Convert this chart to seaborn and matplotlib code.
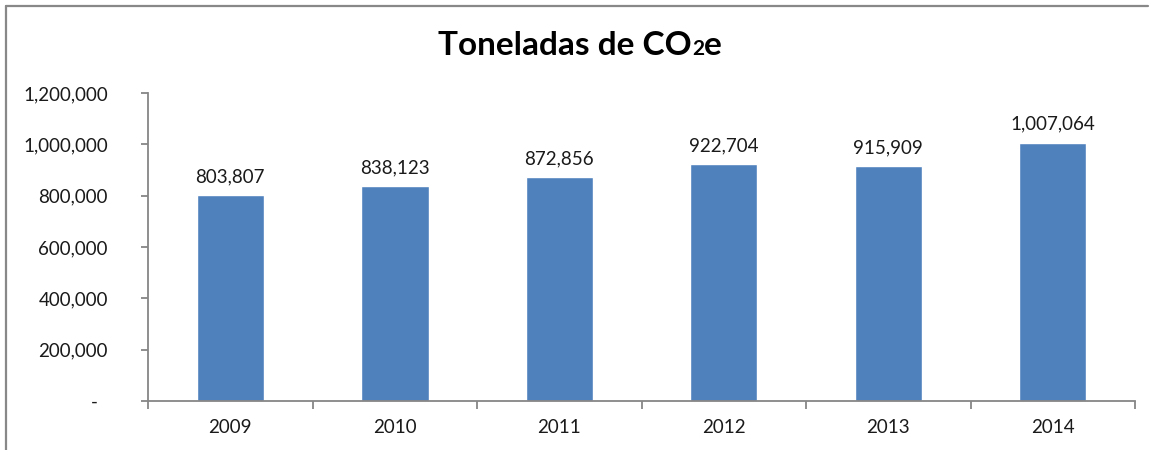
import matplotlib
matplotlib.use("Agg")
import matplotlib.pyplot as plt
import matplotlib.ticker as mticker
from matplotlib.lines import Line2D
import seaborn as sns
import pandas as pd

# Chart data
years = ["2009", "2010", "2011", "2012", "2013", "2014"]
tonnes = [803807, 838123, 872856, 922704, 915909, 1007064]
y_ticks = [0, 200000, 400000, 600000, 800000, 1000000, 1200000]

df = pd.DataFrame({"year": years, "tonnes": tonnes})

sns.set_theme(style="white")
plt.rcParams["font.family"] = ["Lato", "DejaVu Sans"]

fig = plt.figure(figsize=(11.53, 4.5), dpi=100)
ax = fig.add_axes([0.1284, 0.1089, 0.8560, 0.6844])

sns.barplot(data=df, x="year", y="tonnes", color="#4F81BD", width=0.41,
            saturation=1, ax=ax)

# value labels on top of bars
ax.bar_label(ax.containers[0], labels=[f"{v:,}" for v in tonnes],
             padding=7, fontsize=13.5, color="#1a1a1a")

ax.set_xlim(-0.5, 5.5)
ax.set_ylim(0, 1200000)
ax.set_yticks(y_ticks)
ax.yaxis.set_major_formatter(
    mticker.FuncFormatter(lambda v, p: "-  " if v == 0 else f"{int(v):,}"))
ax.set_xlabel("")
ax.set_ylabel("")

axis_col = "#868686"
for side in ["top", "right"]:
    ax.spines[side].set_visible(False)
for side in ["left", "bottom"]:
    ax.spines[side].set_color(axis_col)
    ax.spines[side].set_linewidth(1.3)

ax.tick_params(axis="y", which="major", direction="out", length=5, width=1.3,
               color=axis_col, labelsize=13.5, labelcolor="#1a1a1a", pad=24, left=True)
ax.tick_params(axis="x", which="major", length=0, labelsize=13.5,
               labelcolor="#1a1a1a", pad=13)
ax.set_xticks([i - 0.5 for i in range(len(years) + 1)], minor=True)
ax.tick_params(axis="x", which="minor", direction="out", length=6, width=1.3,
               color=axis_col, bottom=True)

# title with smaller "2", pieces laid out side by side and centred
title_y = 1 - 55 / 450
title_parts = [("Toneladas de CO", 24), ("2", 15), ("e", 24)]
renderer = fig.canvas.get_renderer()
texts = []
x = 0.0
for s, size in title_parts:
    t = fig.text(x, title_y, s, fontsize=size, fontweight="bold",
                 ha="left", va="baseline", color="black")
    bb = t.get_window_extent(renderer=renderer)
    texts.append(t)
    x += bb.width / fig.bbox.width
shift = 580 / 1153 - x / 2
for t in texts:
    px, py = t.get_position()
    t.set_position((px + shift, py))

# outer frame (cropped on right and bottom)
fig.add_artist(Line2D([6 / 1153, 6 / 1153], [0, 1 - 6 / 450],
                      transform=fig.transFigure, color="#888888", lw=1.6))
fig.add_artist(Line2D([6 / 1153, 1148 / 1153], [1 - 6 / 450, 1 - 6 / 450],
                      transform=fig.transFigure, color="#888888", lw=1.6))

fig.savefig("out.png", dpi=100)
